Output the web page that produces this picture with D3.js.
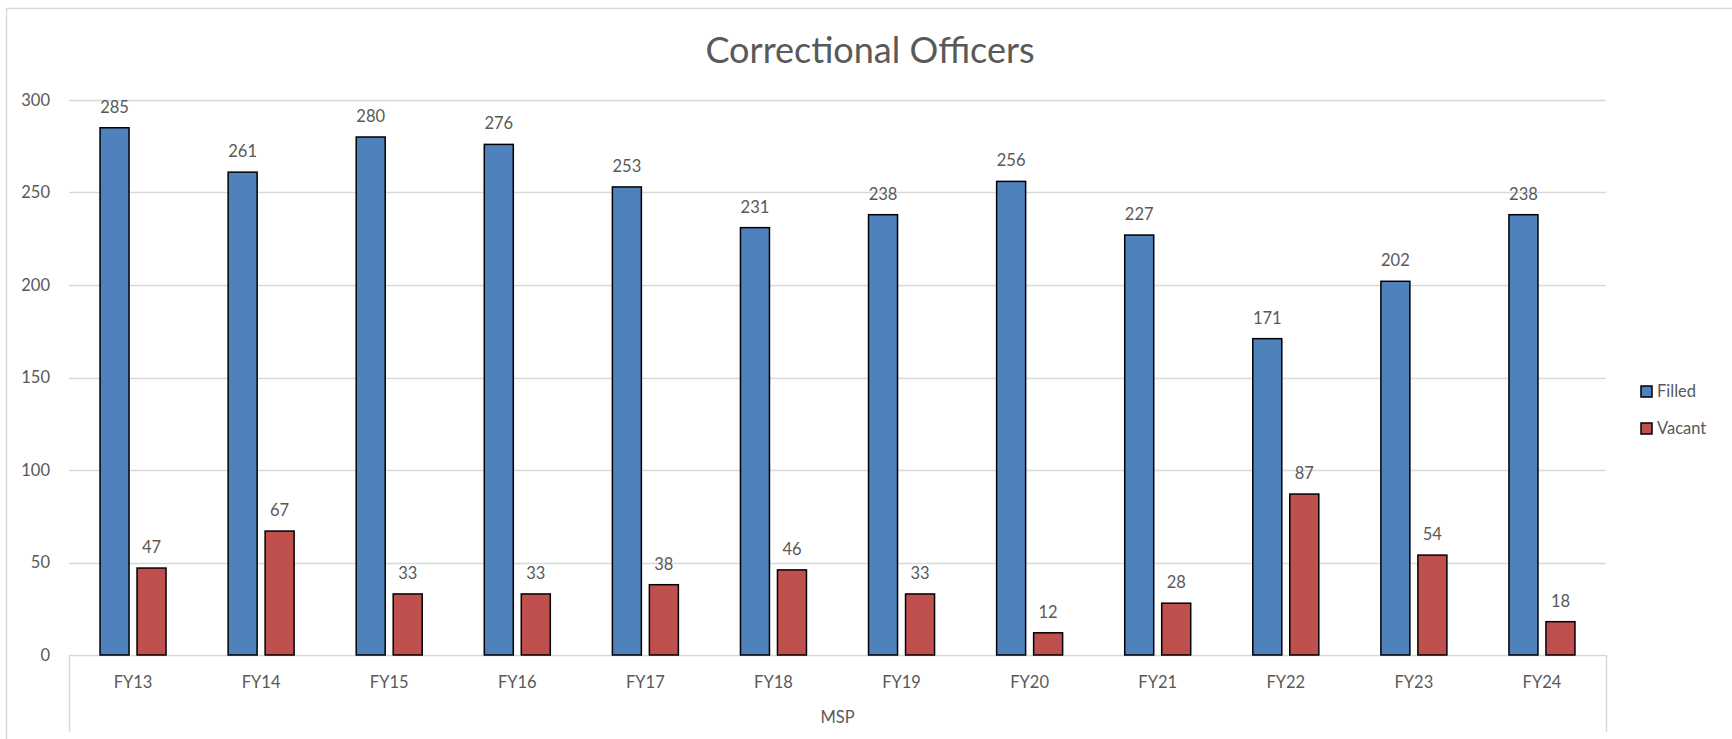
<!DOCTYPE html>
<html>
<head>
<meta charset="utf-8">
<script src="https://cdn.jsdelivr.net/npm/d3@7"></script>
<style>
  body { margin: 0; background: #fff; }
  text { font-family: Lato, "Open Sans", sans-serif; fill: #595959; }
</style>
</head>
<body>
<div id="chart"></div>
<script>
// chart data
var categories = ["FY13","FY14","FY15","FY16","FY17","FY18","FY19","FY20","FY21","FY22","FY23","FY24"];
var filled = [285,261,280,276,253,231,238,256,227,171,202,238];
var vacant = [47,67,33,33,38,46,33,12,28,87,54,18];
var seriesNames = ["Filled","Vacant"];
var seriesColors = ["#4F81BD","#C0504D"];
var yTicks = [0,50,100,150,200,250,300];
var groupLabel = "MSP";
var chartTitle = "Correctional Officers";

var width = 1732, height = 739;
var margin = {top: 100, right: 126, bottom: 84, left: 69};

var svg = d3.select("#chart")
  .append("svg")
  .attr("width", width)
  .attr("height", height);

// outer chart frame (runs off the right and bottom of the picture)
svg.append("rect")
  .attr("x", 6.5).attr("y", 8.5)
  .attr("width", width + 20).attr("height", height + 20)
  .attr("fill", "none")
  .attr("stroke", "#d9d9d9")
  .attr("stroke-width", 1.5);

var plotW = width - margin.left - margin.right,
    plotH = height - margin.top - margin.bottom;

var g = svg.append("g")
  .attr("transform", "translate(" + margin.left + "," + margin.top + ")");

var x = d3.scaleBand().domain(categories).range([0, plotW]).padding(0);
var groupW = 66;
var xs = d3.scaleBand().domain(seriesNames)
  .range([(x.bandwidth() - groupW) / 2, (x.bandwidth() + groupW) / 2])
  .paddingInner(8 / 37);
var y = d3.scaleLinear().domain([0, 300]).range([plotH, 0]);

// gridlines
g.selectAll(".grid")
  .data(yTicks)
  .enter().append("line")
  .attr("class", "grid")
  .attr("x1", 0).attr("x2", plotW)
  .attr("y1", function(d){ return Math.round(y(d)) + 0.5; })
  .attr("y2", function(d){ return Math.round(y(d)) + 0.5; })
  .attr("stroke", "#d9d9d9")
  .attr("stroke-width", 1.5);

// y axis labels
g.selectAll(".ylab")
  .data(yTicks)
  .enter().append("text")
  .attr("class", "ylab")
  .attr("x", -19)
  .attr("y", function(d){ return y(d); })
  .attr("dy", "0.35em")
  .attr("text-anchor", "end")
  .style("font-size", "16.5px")
  .text(function(d){ return d; });

// category box edges (multi-level axis)
g.selectAll(".edge")
  .data([0, plotW])
  .enter().append("line")
  .attr("class", "edge")
  .attr("x1", function(d){ return d + 0.5; })
  .attr("x2", function(d){ return d + 0.5; })
  .attr("y1", plotH).attr("y2", plotH + 77)
  .attr("stroke", "#d9d9d9")
  .attr("stroke-width", 1.5);

// bars
var rows = categories.map(function(c, i){
  return {cat: c, vals: [{s: "Filled", v: filled[i]}, {s: "Vacant", v: vacant[i]}]};
});

var grp = g.selectAll(".cat")
  .data(rows)
  .enter().append("g")
  .attr("class", "cat")
  .attr("transform", function(d){ return "translate(" + x(d.cat) + ",0)"; });

grp.selectAll("rect")
  .data(function(d){ return d.vals; })
  .enter().append("rect")
  .attr("x", function(d){ return xs(d.s); })
  .attr("width", xs.bandwidth())
  .attr("y", function(d){ return y(d.v); })
  .attr("height", function(d){ return plotH - y(d.v); })
  .attr("fill", function(d){ return seriesColors[seriesNames.indexOf(d.s)]; })
  .attr("stroke", "#000")
  .attr("stroke-width", 1.5);

grp.selectAll(".val")
  .data(function(d){ return d.vals; })
  .enter().append("text")
  .attr("class", "val")
  .attr("x", function(d){ return xs(d.s) + xs.bandwidth() / 2; })
  .attr("y", function(d){ return y(d.v) - 15; })
  .attr("text-anchor", "middle")
  .style("font-size", "16.5px")
  .text(function(d){ return d.v; });

// category labels
g.selectAll(".xlab")
  .data(categories)
  .enter().append("text")
  .attr("class", "xlab")
  .attr("x", function(d){ return x(d) + x.bandwidth() / 2; })
  .attr("y", plotH + 33)
  .attr("text-anchor", "middle")
  .style("font-size", "16.5px")
  .text(function(d){ return d; });

g.append("text")
  .attr("x", plotW / 2)
  .attr("y", plotH + 68)
  .attr("text-anchor", "middle")
  .style("font-size", "16.5px")
  .text(groupLabel);

// title
svg.append("text")
  .attr("x", 870)
  .attr("y", 63)
  .attr("text-anchor", "middle")
  .style("font-size", "36px")
  .text(chartTitle);

// legend
var leg = svg.selectAll(".leg")
  .data(seriesNames)
  .enter().append("g")
  .attr("class", "leg")
  .attr("transform", function(d, i){ return "translate(1641," + (386 + i * 37) + ")"; });

leg.append("rect")
  .attr("width", 11).attr("height", 11)
  .attr("fill", function(d, i){ return seriesColors[i]; })
  .attr("stroke", "#000")
  .attr("stroke-width", 1.5);

leg.append("text")
  .attr("x", 16)
  .attr("y", 11)
  .style("font-size", "16.5px")
  .text(function(d){ return d; });
</script>
</body>
</html>
